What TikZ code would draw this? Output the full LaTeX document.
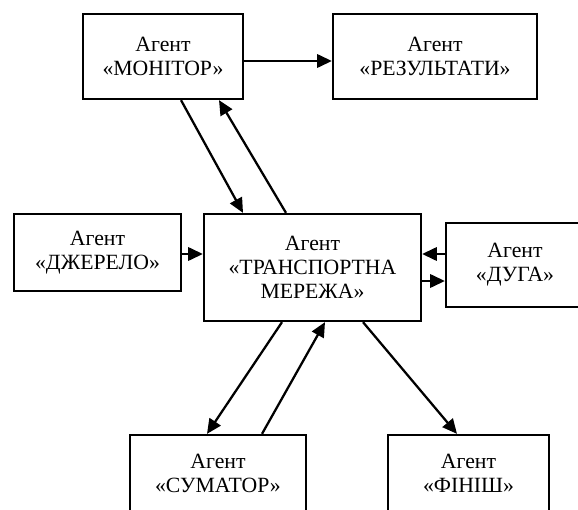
\documentclass[tikz,border=0pt]{standalone}
\usepackage{fontspec}
\setmainfont{Liberation Serif}
\usetikzlibrary{arrows.meta,calc}
\begin{document}
\begin{tikzpicture}[x=0.75pt,y=-0.75pt,
  agent/.style={draw=black,line width=1.7pt,fill=white,align=center,inner sep=0pt,
    font=\fontsize{16.3}{17.8}\selectfont},
  conn/.style={line width=1.7pt,-{Triangle[length=11pt,width=10pt]}}]
\clip (0,0) rectangle (578,510);
\useasboundingbox (0,0) rectangle (578,510);
\node[agent,minimum width=160*0.75pt,minimum height=85*0.75pt] (mon) at (163,56.5) {Агент\\«МОНІТОР»};
\node[agent,minimum width=204*0.75pt,minimum height=85*0.75pt] (res) at (435,56.5) {Агент\\«РЕЗУЛЬТАТИ»};
\node[agent,minimum width=167*0.75pt,minimum height=77*0.75pt] (dzh) at (97.5,252.5) {Агент\\«ДЖЕРЕЛО»};
\node[agent,minimum width=217*0.75pt,minimum height=107*0.75pt] (tr) at (312.5,267.5) {Агент\\«ТРАНСПОРТНА\\МЕРЕЖА»};
\node[agent,minimum width=138*0.75pt,minimum height=84*0.75pt] (duga) at (515,265) {Агент\\«ДУГА»};
\node[agent,minimum width=176*0.75pt,minimum height=77*0.75pt] (sum) at (218,473.5) {Агент\\«СУМАТОР»};
\node[agent,minimum width=161*0.75pt,minimum height=77*0.75pt] (fin) at (468.5,473.5) {Агент\\«ФІНІШ»};
% connectors
\draw[conn] ($(mon.east)+(0,4.5)$) -- ($(res.west)+(0,4.5)$);
\draw[conn] ($(mon.south)+(18,0)$) -- ($(tr.north)+(-69.5,0)$);
\draw[conn] ($(tr.north)+(-26.5,0)$) -- ($(mon.south)+(56,0)$);
\draw[conn] ($(dzh.east)+(0,1.5)$) -- ($(tr.west)+(0,-13.5)$);
\draw[conn] ($(duga.west)+(0,-11)$) -- ($(tr.east)+(0,-13.5)$);
\draw[conn] ($(tr.east)+(0,13.5)$) -- ($(duga.west)+(0,16)$);
\draw[conn] ($(tr.south)+(-30.5,0)$) -- ($(sum.north)+(-11,0)$);
\draw[conn] ($(sum.north)+(44,0)$) -- ($(tr.south)+(12.5,0)$);
\draw[conn] ($(tr.south)+(50.5,0)$) -- ($(fin.north)+(-11.5,0)$);
\end{tikzpicture}
\end{document}
